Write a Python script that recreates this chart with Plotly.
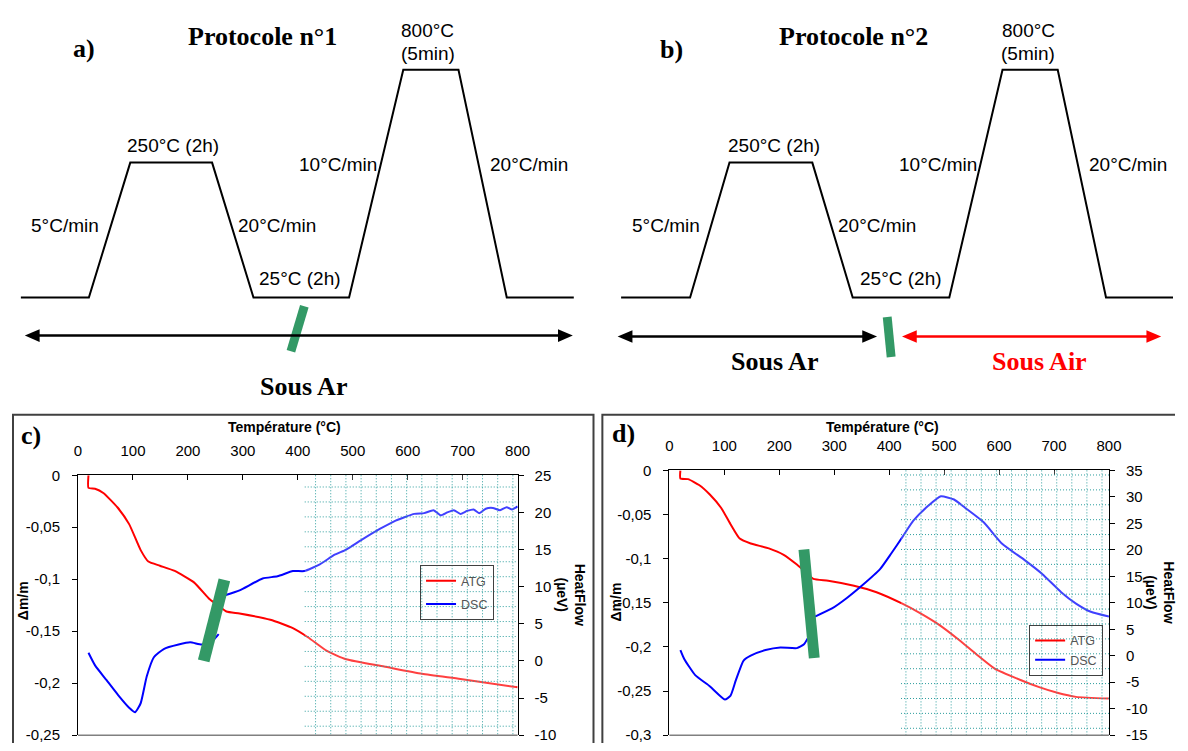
import numpy as np
import plotly.graph_objects as go

W, H = 1188, 751          # reference picture size
OX, OY = 8, 8             # page body margin offset
FW, FH = W - OX, H - OY   # figure size so the picture maps 1:1
SANS = "Liberation Sans, Arial, sans-serif"
SERIF = "Liberation Serif, Times New Roman, serif"

# ---------------- data: panel c (Protocole n°1) ----------------
c_atg_T = [19, 19, 31, 46, 72, 93, 114, 128, 149, 176, 211, 239, 252, 270, 294, 350, 391, 419, 453, 488, 557, 626, 696, 800]
c_atg_dm = [0, -0.0122, -0.013, -0.017, -0.031, -0.047, -0.072, -0.083, -0.087, -0.092, -0.103, -0.119, -0.124,
            -0.131, -0.133, -0.139, -0.147, -0.156, -0.169, -0.177, -0.184, -0.191, -0.196, -0.204]
c_dsc1_T = [19, 31, 52, 73, 93, 104, 114, 125, 138, 156, 183, 204, 225, 242, 256]
c_dsc1_hf = [1.1, -0.6, -2.6, -4.6, -6.3, -6.9, -5.7, -2.1, 0.5, 1.6, 2.2, 2.5, 2.2, 2.5, 3.6]
c_dsc2_T = [266, 294, 336, 363, 391, 412, 440, 467, 488, 516, 550, 578, 612, 630, 647, 660, 672, 684, 696,
            708, 720, 730, 742, 755, 768, 780, 790, 800]
c_dsc2_hf = [8.8, 9.5, 11.1, 11.4, 12.1, 12.1, 13.0, 14.3, 15.0, 16.3, 17.8, 18.9, 19.8, 19.9, 20.3, 19.6, 20.0,
             20.3, 19.8, 20.2, 20.4, 19.9, 20.5, 20.6, 20.3, 20.7, 20.4, 20.8]

# ---------------- data: panel d (Protocole n°2) ----------------
d_atg_T = [20, 20, 34, 54, 74, 94, 111, 128, 148, 181, 208, 232, 242, 262, 289, 336, 377, 424, 457, 491, 525,
           558, 592, 639, 673, 706, 740, 800]
d_atg_dm = [0, -0.0092, -0.0099, -0.0166, -0.0276, -0.0423, -0.0607, -0.0773, -0.0828, -0.0884, -0.0957, -0.1067,
            -0.112, -0.123, -0.125, -0.1307, -0.138, -0.151, -0.162, -0.175, -0.191, -0.208, -0.2246, -0.2375,
            -0.2456, -0.252, -0.2566, -0.2585]
d_dsc1_T = [20, 27, 47, 74, 101, 111, 121, 135, 148, 175, 202, 232, 245, 254]
d_dsc1_hf = [1.07, -0.6, -3.66, -5.8, -8.26, -7.6, -4.6, -0.9, 0.02, 1.07, 1.56, 1.44, 2.17, 3.7]
d_dsc2_T = [265, 296, 323, 350, 383, 404, 424, 444, 471, 494, 518, 538, 572, 605, 646, 679, 713, 740, 767, 800]
d_dsc2_hf = [7.4, 8.93, 10.9, 13.2, 16.3, 19.35, 22.4, 25.5, 28.3, 30.1, 29.5, 27.95, 25.2, 21.2, 18.1, 15.4,
             12.0, 9.85, 8.3, 7.4]

# ---------------- tick labels ----------------
temp_ticks = [0, 100, 200, 300, 400, 500, 600, 700, 800]
c_left_vals = [0, -0.05, -0.1, -0.15, -0.2, -0.25]
c_left_text = ["0", "-0,05", "-0,1", "-0,15", "-0,2", "-0,25"]
c_right_vals = [25, 20, 15, 10, 5, 0, -5, -10]
c_right_text = ["25", "20", "15", "10", "5", "0", "-5", "-10"]
d_left_vals = [0, -0.05, -0.1, -0.15, -0.2, -0.25, -0.3]
d_left_text = ["0", "-0,05", "-0,1", "-0,15", "-0,2", "-0,25", "-0,3"]
d_right_vals = [35, 30, 25, 20, 15, 10, 5, 0, -5, -10, -15]
d_right_text = ["35", "30", "25", "20", "15", "10", "5", "0", "-5", "-10", "-15"]

# ---------------- protocol schematics (diagram units) ----------------
prot_a_x = [17, 86, 128, 211, 253, 350, 405, 461, 510, 578]
prot_b_x = [626, 696, 736, 820, 861, 959, 1013, 1069, 1118, 1186]
prot_y = [295, 295, 157, 157, 295, 295, 62, 62, 295, 295]

RED = "#ff0000"
BLUE = "#0000ff"
GREEN = "#339966"


def line(color):
    return dict(color=color, width=2, shape="spline", smoothing=0.5)


fig = go.Figure()

# panel c traces
fig.add_trace(go.Scatter(x=c_atg_T, y=c_atg_dm, mode="lines", name="ATG", line=line(RED),
                         xaxis="x", yaxis="y", legend="legend", legendgroup="c1"))
fig.add_trace(go.Scatter(x=c_dsc1_T, y=c_dsc1_hf, mode="lines", name="DSC", line=line(BLUE),
                         xaxis="x", yaxis="y2", legend="legend", legendgroup="c2"))
fig.add_trace(go.Scatter(x=c_dsc2_T, y=c_dsc2_hf, mode="lines", name="DSC", line=line(BLUE),
                         xaxis="x", yaxis="y2", showlegend=False, legendgroup="c2"))
# panel d traces
fig.add_trace(go.Scatter(x=d_atg_T, y=d_atg_dm, mode="lines", name="ATG", line=line(RED),
                         xaxis="x2", yaxis="y3", legend="legend2", legendgroup="d1"))
fig.add_trace(go.Scatter(x=d_dsc1_T, y=d_dsc1_hf, mode="lines", name="DSC", line=line(BLUE),
                         xaxis="x2", yaxis="y4", legend="legend2", legendgroup="d2"))
fig.add_trace(go.Scatter(x=d_dsc2_T, y=d_dsc2_hf, mode="lines", name="DSC", line=line(BLUE),
                         xaxis="x2", yaxis="y4", showlegend=False, legendgroup="d2"))
# protocol schematics
fig.add_trace(go.Scatter(x=prot_a_x, y=prot_y, mode="lines", line=dict(color="black", width=2),
                         xaxis="x3", yaxis="y5", showlegend=False, hoverinfo="skip"))
fig.add_trace(go.Scatter(x=prot_b_x, y=prot_y, mode="lines", line=dict(color="black", width=2),
                         xaxis="x3", yaxis="y5", showlegend=False, hoverinfo="skip"))

shapes = []
ann = []


def txt(x, y, s, size, family=SANS, color="black", bold=False, angle=0):
    ann.append(dict(x=x, y=y, xref="x3", yref="y5", text=s, showarrow=False,
                    font=dict(family=family, size=size, color=color, weight="bold" if bold else "normal"),
                    textangle=angle, xanchor="center", yanchor="middle"))


def bar(xt, yt, xb, yb, w):
    dx_, dy_ = xb - xt, yb - yt
    L = (dx_ * dx_ + dy_ * dy_) ** 0.5
    nx, ny = -dy_ / L * w / 2, dx_ / L * w / 2
    p = [(xt + nx, yt + ny), (xt - nx, yt - ny), (xb - nx, yb - ny), (xb + nx, yb + ny)]
    path = "M " + " L ".join(f"{a:.2f},{b:.2f}" for a, b in p) + " Z"
    shapes.append(dict(type="path", path=path, xref="x3", yref="y5", fillcolor=GREEN,
                       line=dict(width=0), layer="above"))


def arrow(xl, xr, y, color, hl=15, hw=6.5, lw=2.5):
    shapes.append(dict(type="line", x0=xl + hl - 2, x1=xr - hl + 2, y0=y, y1=y, xref="x3", yref="y5",
                       line=dict(color=color, width=lw), layer="above"))
    for tip, s in ((xl, 1), (xr, -1)):
        path = f"M {tip},{y} L {tip + s * hl},{y - hw} L {tip + s * hl},{y + hw} Z"
        shapes.append(dict(type="path", path=path, xref="x3", yref="y5", fillcolor=color,
                           line=dict(width=0), layer="above"))


def grid(x0, x1, y0, y1, vx0, vstep, hy0, hstep):
    shapes.append(dict(type="rect", x0=x0, x1=x1, y0=y0, y1=y1, xref="x3", yref="y5",
                       fillcolor="rgba(255,255,255,0.25)", line=dict(width=0), layer="above"))
    v = vx0
    while v <= x1:
        shapes.append(dict(type="line", x0=v, x1=v, y0=y0, y1=y1, xref="x3", yref="y5",
                           line=dict(color="#2e9e9e", width=1, dash="1px,2px"), layer="above"))
        v += vstep
    h = hy0
    while h <= y1:
        shapes.append(dict(type="line", x0=x0, x1=x1, y0=h, y1=h, xref="x3", yref="y5",
                           line=dict(color="#2e9e9e", width=1, dash="1px,2px"), layer="above"))
        h += hstep


# outer boxes for c and d
shapes.append(dict(type="rect", x0=9, x1=598, y0=415, y1=H + 20, xref="x3", yref="y5",
                   line=dict(color="#404040", width=2), fillcolor="rgba(0,0,0,0)", layer="above"))
shapes.append(dict(type="rect", x0=607, x1=W + 20, y0=415, y1=H + 20, xref="x3", yref="y5",
                   line=dict(color="#404040", width=2), fillcolor="rgba(0,0,0,0)", layer="above"))

# hatched grid regions
grid(305, 520, 477, 743, 316, 15.4, 489, 15.3)
grid(910, 1121, 472, 743, 915, 15.3, 476.7, 15.25)

# grey bottom frame lines of the two charts
shapes.append(dict(type="line", x0=75, x1=521, y0=743, y1=743, xref="x3", yref="y5",
                   line=dict(color="#808080", width=1.5), layer="above"))
shapes.append(dict(type="line", x0=675, x1=1121, y0=743, y1=743, xref="x3", yref="y5",
                   line=dict(color="#808080", width=1.5), layer="above"))

# green separator bars
bar(304.6, 304, 291, 350, 9)
bar(896, 315, 900, 356, 9)
bar(223.5, 584, 202.5, 667, 12)
bar(811.5, 553, 822, 664, 11)

# arrows
arrow(21, 577, 334, "black")
arrow(622.5, 885.7, 335, "black")
arrow(911, 1174, 335, RED)

# --- top texts ---
txt(81, 40, "a)", 26, SERIF, bold=True)
txt(262, 28, "Protocole n°1", 26, SERIF, bold=True)
txt(304, 386, "Sous Ar", 26, SERIF, bold=True)
txt(677, 41, "b)", 26, SERIF, bold=True)
txt(862, 28, "Protocole n°2", 26, SERIF, bold=True)
txt(782, 361, "Sous Ar", 26, SERIF, bold=True)
txt(1051, 361, "Sous Air", 26, SERIF, color=RED, bold=True)

for (x8, x250, x5, x20a, x10, x20b, x25) in [(430, 171, 62, 277, 339, 533, 300),
                                              (1039, 781, 672, 886, 947.5, 1140.5, 909.6)]:
    txt(x8, 22, "800°C", 19)
    txt(x8, 45, "(5min)", 19)
    txt(x250, 140, "250°C (2h)", 19)
    txt(x5, 221, "5°C/min", 19)
    txt(x20a, 221, "20°C/min", 19)
    txt(x10, 159, "10°C/min", 19)
    txt(x20b, 159, "20°C/min", 19)
    txt(x25, 276, "25°C (2h)", 19)

# --- chart texts ---
txt(27, 436, "c)", 26, SERIF, bold=True)
txt(628, 434, "d)", 26, SERIF, bold=True)
txt(284, 428, "Température (°C)", 14, bold=True)
txt(891, 428, "Température (°C)", 14, bold=True)
txt(20, 605, "Δm/m", 14, bold=True, angle=-90)
txt(621, 607, "Δm/m", 14, bold=True, angle=-90)
txt(575, 599, "HeatFlow<br>(µeV)", 14, bold=True, angle=90)
txt(1173, 597, "HeatFlow<br>(µeV)", 14, bold=True, angle=90)


def dx(a, b):
    return [(a - OX) / FW, (b - OX) / FW]


def dy(top, bottom):
    return [1 - (bottom - OY) / FH, 1 - (top - OY) / FH]


tickfont = dict(family=SANS, size=15, color="black")
base = dict(showgrid=False, zeroline=False, showline=True, linecolor="black", linewidth=1,
            tickfont=tickfont, tickcolor="black", ticklen=5, tickwidth=1, ticklabeloverflow="allow")

legend_common = dict(xanchor="left", yanchor="top", bordercolor="#404040", borderwidth=1,
                     bgcolor="rgba(255,255,255,0)", font=dict(family=SANS, size=12.5, color="#555555"),
                     itemwidth=30, traceorder="grouped")

fig.update_layout(
    width=FW, height=FH, margin=dict(l=0, r=0, t=0, b=0),
    paper_bgcolor="white", plot_bgcolor="rgba(0,0,0,0)",
    xaxis=dict(base, domain=dx(75, 521), anchor="y", side="top", range=[0, 800], tickvals=temp_ticks,
               ticks="inside", ticklabelstandoff=12),
    yaxis=dict(base, domain=dy(477, 743), anchor="x", range=[-0.25, 0], tickvals=c_left_vals,
               ticktext=c_left_text, ticks="outside", ticklabelstandoff=9),
    yaxis2=dict(base, overlaying="y", side="right", anchor="x", range=[-10, 25], tickvals=c_right_vals,
                ticktext=c_right_text, ticks="outside", ticklabelstandoff=8),
    xaxis2=dict(base, domain=dx(675, 1121), anchor="y3", side="top", range=[0, 800], tickvals=temp_ticks,
                ticks="inside", ticklabelstandoff=12),
    yaxis3=dict(base, domain=dy(472, 743), anchor="x2", range=[-0.3, 0], tickvals=d_left_vals,
                ticktext=d_left_text, ticks="outside", ticklabelstandoff=9),
    yaxis4=dict(base, overlaying="y3", side="right", anchor="x2", range=[-15, 35], tickvals=d_right_vals,
                ticktext=d_right_text, ticks="outside", ticklabelstandoff=8),
    xaxis3=dict(domain=[0, 1], anchor="y5", range=[OX, W], visible=False),
    yaxis5=dict(domain=[0, 1], anchor="x3", range=[H, OY], visible=False),
    legend=dict(legend_common, x=(422 - OX) / FW, y=1 - (569 - OY) / FH, tracegroupgap=4),
    legend2=dict(legend_common, x=(1040 - OX) / FW, y=1 - (630 - OY) / FH, tracegroupgap=0),
    shapes=shapes, annotations=ann,
)

fig.write_html("out.html")
